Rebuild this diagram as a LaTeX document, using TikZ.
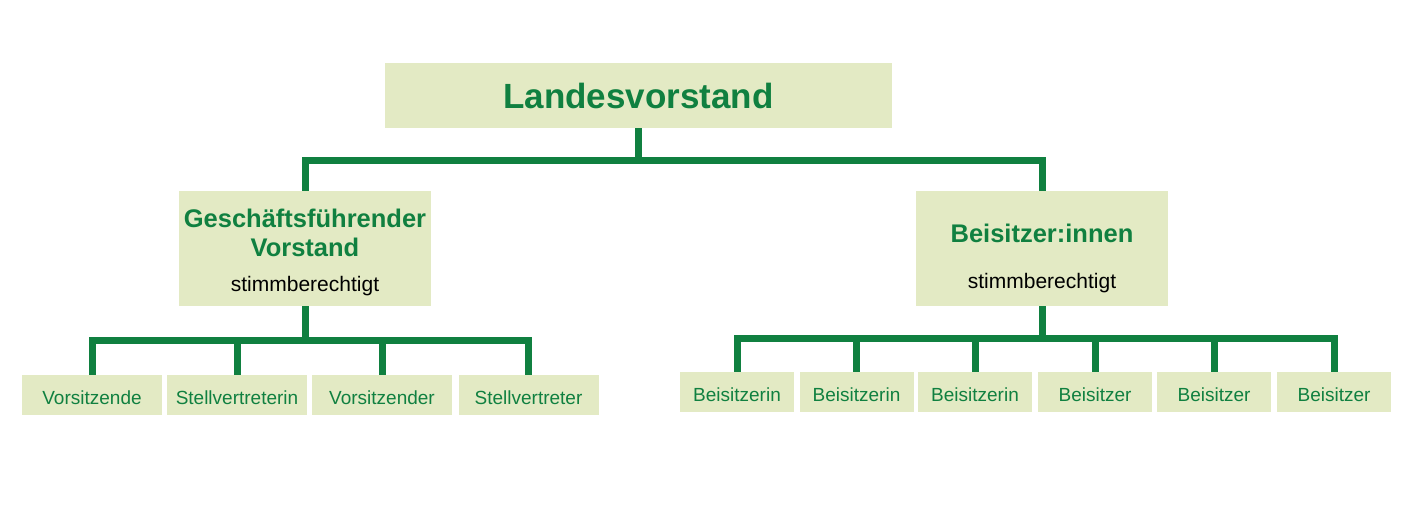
\documentclass[tikz,border=0pt]{standalone}
\usepackage{fontspec}
\setmainfont{Liberation Sans}
\definecolor{gruen}{RGB}{16,128,64}
\definecolor{hellgruen}{RGB}{227,234,196}

\begin{document}
\begin{tikzpicture}[x=1pt,y=-1pt,
    box/.style={fill=hellgruen,inner sep=0pt,text=gruen,align=center},
    amt/.style={box,minimum height=40pt,text height=19pt,text depth=0pt,font=\fontsize{19}{23}\selectfont},
    link/.style={draw=gruen,line width=7pt}]
  \useasboundingbox (0,0) rectangle (1411,514);
  \node[box,minimum width=507pt,minimum height=65pt,font=\bfseries\fontsize{35}{42}\selectfont] (lv) at (638.5,95.5) {Landesvorstand};
  % row 2
  \node[box,minimum width=252pt,minimum height=115pt,font=\bfseries\fontsize{25.5}{29}\selectfont] (gv) at (305,248.5)
    {\rule{0pt}{27pt}Geschäftsführender\\Vorstand\\[6pt]{\mdseries\color{black}\fontsize{21}{25}\selectfont stimmberechtigt}};
  \node[box,minimum width=252pt,minimum height=115pt,font=\bfseries\fontsize{25.5}{29}\selectfont] (bs) at (1042,248.5)
    {\rule{0pt}{39pt}Beisitzer:innen\\[17pt]{\mdseries\color{black}\fontsize{21}{25}\selectfont stimmberechtigt}};
  % row 3, links
  \node[amt,minimum width=140pt] (vors) at (92,395) {Vorsitzende};
  \node[amt,minimum width=140pt] (stvin) at (237,395) {Stellvertreterin};
  \node[amt,minimum width=140pt] (vorsr) at (382,395) {Vorsitzender};
  \node[amt,minimum width=140pt] (stv) at (528.5,395) {Stellvertreter};
  % row 3, rechts
  \node[amt,minimum width=114pt] (bsin1) at (737,392) {Beisitzerin};
  \node[amt,minimum width=114pt] (bsin2) at (856.5,392) {Beisitzerin};
  \node[amt,minimum width=114pt] (bsin3) at (975,392) {Beisitzerin};
  \node[amt,minimum width=114pt] (bsr1) at (1095,392) {Beisitzer};
  \node[amt,minimum width=114pt] (bsr2) at (1214,392) {Beisitzer};
  \node[amt,minimum width=114pt] (bsr3) at (1334,392) {Beisitzer};

  % links
  \draw[link] (lv.south) -- ++(0,32) -| (gv.north);
  \draw[link] (lv.south) -- ++(0,32) -| (bs.north);
  \draw[link] (gv.south) -- ++(0,34) -| (vors.north);
  \draw[link] (gv.south) -- ++(0,34) -| (stvin.north);
  \draw[link] (gv.south) -- ++(0,34) -| (vorsr.north);
  \draw[link] (gv.south) -- ++(0,34) -| (stv.north);
  \draw[link] (bs.south) -- ++(0,32) -| (bsin1.north);
  \draw[link] (bs.south) -- ++(0,32) -| (bsin2.north);
  \draw[link] (bs.south) -- ++(0,32) -| (bsin3.north);
  \draw[link] (bs.south) -- ++(0,32) -| (bsr1.north);
  \draw[link] (bs.south) -- ++(0,32) -| (bsr2.north);
  \draw[link] (bs.south) -- ++(0,32) -| (bsr3.north);
\end{tikzpicture}
\end{document}
